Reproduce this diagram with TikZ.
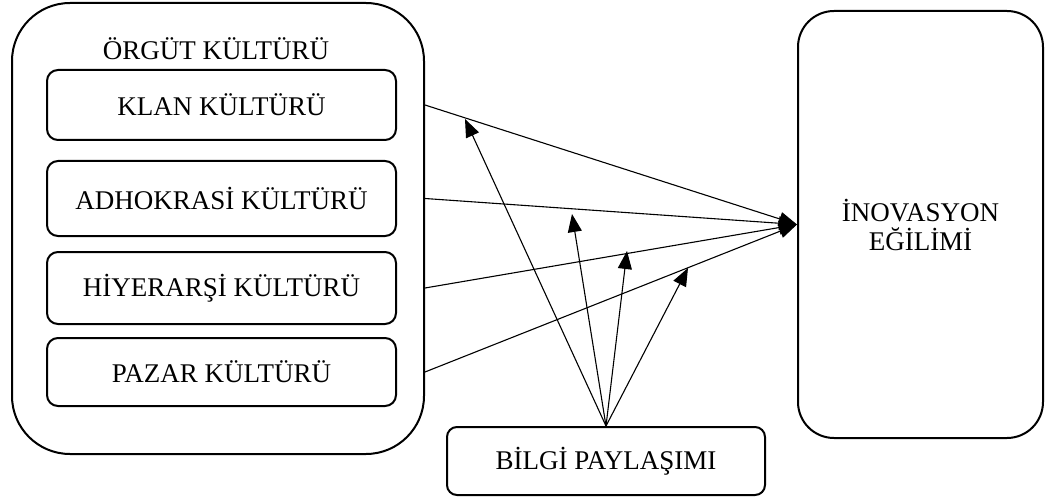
\documentclass[tikz,border=0pt]{standalone}
\usepackage{fontspec}
\setmainfont{Liberation Serif}
\usetikzlibrary{arrows.meta,calc}
\begin{document}
\begin{tikzpicture}[x=1pt,y=-1pt,
  bigbox/.style={draw,line width=2pt,rounded corners=#1,inner sep=0pt},
  culture/.style={draw,line width=2pt,rounded corners=11pt,minimum width=349pt,inner sep=0pt,font=\fontsize{27}{31}\selectfont},
  link/.style={line width=1.1pt,-{Triangle[length=18pt,width=14pt]}}]
\useasboundingbox (0,0) rectangle (1045,500);
% outer organisational culture box
\node[bigbox=58pt,minimum width=412pt,minimum height=451pt] (outer) at (218,228.5) {};
\node[font=\fontsize{27}{31}\selectfont] (title) at (216,49) {ÖRGÜT KÜLTÜRÜ};
\node[culture,minimum height=70pt] (klan) at (221.5,105) {KLAN KÜLTÜRÜ};
\node[culture,minimum height=75pt] (adho) at (221.5,198.5) {ADHOKRASİ KÜLTÜRÜ};
\node[culture,minimum height=72pt] (hiye) at (221.5,288) {HİYERARŞİ KÜLTÜRÜ};
\node[culture,minimum height=68pt] (paza) at (221.5,372) {PAZAR KÜLTÜRÜ};
% innovation box
\node[bigbox=36pt,minimum width=245pt,minimum height=427pt,align=center,font=\fontsize{27}{29}\selectfont] (inov) at (920.5,224.5) {İNOVASYON\\EĞİLİMİ};
% knowledge sharing box
\node[draw,line width=2pt,rounded corners=10pt,minimum width=318pt,minimum height=68pt,inner sep=0pt,font=\fontsize{27}{31}\selectfont] (bilgi) at (606,461) {BİLGİ PAYLAŞIMI};
% main arrows
\draw[link] (outer.east |- klan) -- (inov.west);
\draw[link] (outer.east |- adho) -- (inov.west);
\draw[link] (outer.east |- hiye) -- (inov.west);
\draw[link] (outer.east |- paza) -- (inov.west);
% moderating arrows
\coordinate (m1) at (465,119);
\coordinate (m2) at (572,214);
\coordinate (m3) at (627,251);
\coordinate (m4) at (688,268);
\foreach \m in {m1,m2,m3,m4}
  \draw[link] (bilgi.north) -- (\m);
\end{tikzpicture}
\end{document}
